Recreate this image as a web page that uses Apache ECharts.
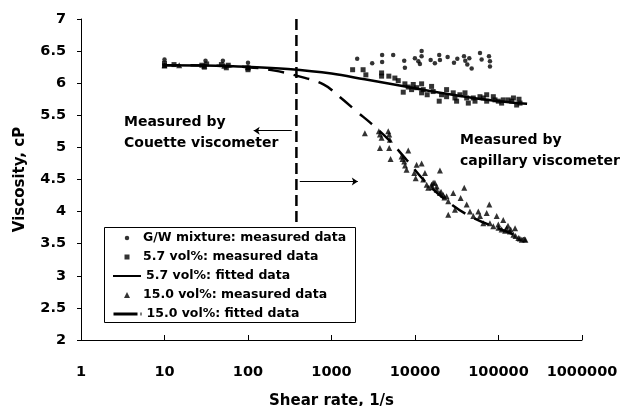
<!DOCTYPE html>
<html>
<head>
<meta charset="utf-8">
<script src="https://cdn.jsdelivr.net/npm/echarts@6/dist/echarts.min.js"></script>
<style>html,body{margin:0;padding:0;background:#fff}#c{width:620px;height:406px}</style>
</head>
<body>
<div id="c"></div>
<script>
// ---- data (shear rate [1/s], viscosity [cP]) ----
const xTickLabels = ['1', '10', '100', '1000', '10000', '100000', '1000000'];

const gwMeasured = [
  [10, 6.37], [31, 6.35], [50, 6.35], [100, 6.32],
  [2030, 6.38], [3070, 6.31], [4040, 6.44], [4040, 6.33], [5480, 6.44], [7430, 6.35],
  [7570, 6.24], [9970, 6.39], [10960, 6.34], [12000, 6.50], [12000, 6.42], [11450, 6.30],
  [15400, 6.36], [17300, 6.31], [19500, 6.44], [19900, 6.36], [24600, 6.41], [29300, 6.32],
  [32100, 6.38], [38600, 6.42], [40000, 6.35], [42300, 6.29], [44700, 6.39], [47700, 6.23],
  [60000, 6.47], [62800, 6.37], [76900, 6.42], [79000, 6.34], [79000, 6.26]
];

const vol57Measured = [
  [10, 6.31], [10, 6.27], [13, 6.29], [28, 6.28], [30, 6.25], [32, 6.30], [48, 6.29],
  [55, 6.24], [58, 6.28], [100, 6.21], [100, 6.24],
  [1790, 6.21], [2390, 6.21], [2580, 6.13], [3980, 6.16], [3980, 6.11], [4860, 6.11],
  [5740, 6.08], [6300, 6.04], [7570, 5.99], [7230, 5.86], [8300, 5.94], [9100, 5.90],
  [9530, 5.98], [10450, 5.93], [12000, 5.99], [12550, 5.90], [12000, 5.85], [14000, 5.82],
  [15800, 5.95], [16500, 5.87], [19500, 5.72], [20800, 5.82], [23900, 5.90], [23900, 5.79],
  [28700, 5.85], [30100, 5.77], [31500, 5.72], [34500, 5.82], [39700, 5.85], [41600, 5.77],
  [43500, 5.69], [49900, 5.77], [52300, 5.72], [60000, 5.79], [65800, 5.77], [72200, 5.82],
  [72200, 5.72], [86700, 5.79], [90800, 5.74], [99500, 5.72], [109000, 5.69], [114000, 5.74],
  [131000, 5.74], [144000, 5.72], [151000, 5.77], [165000, 5.66], [181000, 5.69], [176000, 5.75]
];

const vol57FitX = [10, 30, 100, 300, 1000, 2500, 5000, 10000, 20000, 50000, 100000, 220000];
const vol57FitY = [6.28, 6.275, 6.255, 6.22, 6.15, 6.06, 5.99, 5.92, 5.85, 5.77, 5.72, 5.68];

const vol150Measured = [
  [10, 6.28], [15, 6.28], [30, 6.27], [52, 6.27], [100, 6.25],
  [2510, 5.22], [3690, 5.25], [3800, 5.20], [3980, 5.15], [4780, 5.25], [4910, 5.20],
  [5000, 5.12], [3800, 4.99], [4910, 4.99], [5100, 4.82], [8300, 4.95], [6900, 4.86],
  [7100, 4.82], [7600, 4.72], [7430, 4.78], [7930, 4.65], [10450, 4.73], [12000, 4.75],
  [9790, 4.60], [10200, 4.52], [13150, 4.60], [19900, 4.64], [12550, 4.50], [13800, 4.42],
  [15800, 4.42], [17300, 4.45], [14400, 4.37], [16000, 4.38], [18200, 4.34], [19900, 4.29],
  [20500, 4.31], [21800, 4.26], [22500, 4.22], [23900, 4.24], [16500, 4.45], [18200, 4.39],
  [25000, 4.16], [28700, 4.29], [30100, 4.03], [35200, 4.21], [38900, 4.37], [25000, 3.95],
  [41600, 4.11], [45500, 4.00], [49900, 3.93], [57300, 4.00], [60000, 3.93], [72200, 3.98],
  [77600, 4.11], [65800, 3.82], [79000, 3.82], [86700, 3.77], [95100, 3.93], [99500, 3.80],
  [100000, 3.75], [114000, 3.87], [109000, 3.72], [120000, 3.70], [125000, 3.74],
  [130000, 3.78], [137000, 3.69], [140000, 3.72], [158000, 3.74], [151000, 3.64],
  [160000, 3.62], [173000, 3.59], [180000, 3.58], [190000, 3.56], [205000, 3.57], [210000, 3.56]
];

const vol150FitX = [10, 30, 100, 200, 400, 800, 1300, 2000, 3000, 5000, 8000, 13000, 25000, 50000, 100000, 200000];
const vol150FitY = [6.28, 6.275, 6.25, 6.2, 6.11, 5.98, 5.77, 5.56, 5.37, 5.10, 4.80, 4.48, 4.15, 3.90, 3.74, 3.58];

const boundaryX = [380, 380];
const boundaryY = [7, 3.83];

const arrowLeft = [[334, 5.26], [117, 5.26]];
const arrowRight = [[417, 4.47], [2066, 4.47]];

const seriesNames = [
  'G/W mixture: measured data',
  '5.7 vol%: measured data',
  '5.7 vol%: fitted data',
  '15.0 vol%: measured data',
  '15.0 vol%: fitted data'
];

// ---- chart ----
const FONT = 'DejaVu Sans';
const zip = (xs, ys) => xs.map((x, i) => [x, ys[i]]);
const legendText = { fontFamily: FONT, fontWeight: 'bold', fontSize: 12.5, lineHeight: 14, color: '#000' };
const ICON_RECT = 'path://M0,0 L10,0 L10,10 L0,10 Z';
const ICON_TRI = 'path://M5,0 L10,10 L0,10 Z';
function mkLegend(name, top, left, w, h, extra) {
  return Object.assign({
    data: [name], top: top, left: left, orient: 'vertical', padding: 0,
    itemWidth: w, itemHeight: h, selectedMode: false, symbolKeepAspect: true,
    textStyle: legendText
  }, extra || {});
}

const chart = echarts.init(document.getElementById('c'), null, { renderer: 'canvas' });
chart.setOption({
  animation: false,
  backgroundColor: '#fff',
  textStyle: { fontFamily: FONT },
  grid: { left: 81, right: 38, top: 19, bottom: 66, containLabel: false, outerBoundsMode: 'none' },
  xAxis: {
    type: 'log', logBase: 10, min: 1, max: 1000000, splitNumber: 6,
    axisLine: { show: true, lineStyle: { color: '#000', width: 1 } },
    axisTick: { show: true, inside: true, length: 5, lineStyle: { color: '#000' } },
    minorTick: { show: false },
    splitLine: { show: false },
    axisLabel: {
      margin: 25, color: '#000', fontFamily: FONT, fontWeight: 'bold', fontSize: 14.5,
      formatter: v => xTickLabels[Math.round(Math.log10(v))]
    },
    name: 'Shear rate, 1/s', nameLocation: 'middle', nameGap: 54,
    nameTextStyle: { color: '#000', fontFamily: FONT, fontWeight: 'bold', fontSize: 15 }
  },
  yAxis: {
    type: 'value', min: 2, max: 7, interval: 0.5,
    axisLine: { show: true, lineStyle: { color: '#000', width: 1 } },
    axisTick: { show: true, inside: false, length: 4, lineStyle: { color: '#000' } },
    splitLine: { show: false },
    axisLabel: { margin: 15, color: '#000', fontFamily: FONT, fontWeight: 'bold', fontSize: 14.5 },
    name: 'Viscosity, cP', nameLocation: 'middle', nameGap: 53, nameRotate: 90,
    nameTextStyle: { color: '#000', fontFamily: FONT, fontWeight: 'bold', fontSize: 15 }
  },
  legend: [
    mkLegend(seriesNames[0], 231, 124.75, 22, 4.5, { icon: 'circle' }),
    mkLegend(seriesNames[1], 250, 124.5, 22, 5, { icon: ICON_RECT }),
    mkLegend(seriesNames[2], 269, 112, 28, 14, { itemStyle: { opacity: 0 } }),
    mkLegend(seriesNames[3], 288, 124, 22, 6, { icon: ICON_TRI }),
    mkLegend(seriesNames[4], 307, 112, 28, 14, { itemStyle: { opacity: 0 }, lineStyle: { type: [24, 3], width: 3 } })
  ],
  graphic: [
    { type: 'rect', shape: { x: 104.5, y: 227.5, width: 251, height: 95 },
      style: { fill: 'transparent', stroke: '#000', lineWidth: 1 }, z: 1 },
    { type: 'text', left: 124, top: 111.5,
      style: { text: 'Measured by\nCouette viscometer', font: 'bold 14px "DejaVu Sans"', lineHeight: 21, fill: '#000' } },
    { type: 'text', left: 460, top: 129.5,
      style: { text: 'Measured by\ncapillary viscometer', font: 'bold 14px "DejaVu Sans"', lineHeight: 21, fill: '#000' } }
  ],
  series: [
    { name: 'boundary', type: 'line', data: zip(boundaryX, boundaryY), symbol: 'none', silent: true,
      lineStyle: { color: '#000', width: 2.5, type: [11, 5] }, z: 1 },
    { name: 'arrows', type: 'lines', coordinateSystem: 'cartesian2d', silent: true,
      symbol: ['none', 'arrow'], symbolSize: 6,
      lineStyle: { color: '#000', width: 1, opacity: 1 },
      data: [{ coords: arrowLeft }, { coords: arrowRight }] },
    { name: seriesNames[0], type: 'scatter', data: gwMeasured, symbol: 'circle', symbolSize: 4.5,
      itemStyle: { color: '#000' }, z: 3 },
    { name: seriesNames[1], type: 'scatter', data: vol57Measured, symbol: 'rect', symbolSize: 5,
      itemStyle: { color: '#000' }, z: 3 },
    { name: seriesNames[2], type: 'line', data: zip(vol57FitX, vol57FitY), symbol: 'none', smooth: 0.4,
      lineStyle: { color: '#000', width: 2.5 }, itemStyle: { color: '#000' }, z: 4 },
    { name: seriesNames[3], type: 'scatter', data: vol150Measured, symbol: 'triangle', symbolSize: 6,
      itemStyle: { color: '#000' }, z: 2 },
    { name: seriesNames[4], type: 'line', data: zip(vol150FitX, vol150FitY), symbol: 'none', smooth: 0.4,
      lineStyle: { color: '#000', width: 2.5, type: [16, 10] }, itemStyle: { color: '#000' }, z: 4 }
  ]
});
</script>
</body>
</html>
